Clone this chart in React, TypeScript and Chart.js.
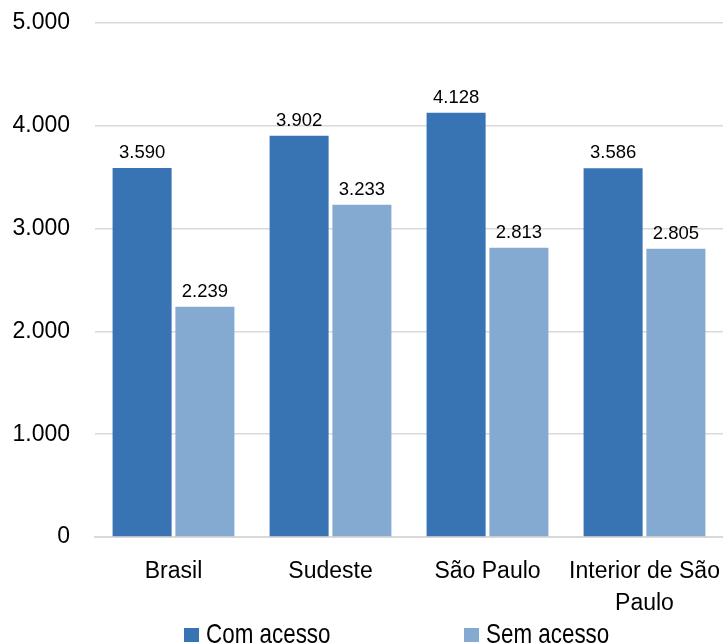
import React, { useEffect, useRef } from "react";
import { Chart, registerables } from "chart.js";

Chart.register(...registerables);

const categories: (string | string[])[] = ["Brasil", "Sudeste", "São Paulo", ["Interior de São", "Paulo"]];
const comAcesso = [3590, 3902, 4128, 3586];
const semAcesso = [2239, 3233, 2813, 2805];
const seriesNames = ["Com acesso", "Sem acesso"];
const yTicks = [0, 1000, 2000, 3000, 4000, 5000];

const FONT = "'Liberation Sans', Arial, sans-serif";
const DARK = "#3874B4";
const LIGHT = "#84AAD2";

const fmt = (v: number) => v.toLocaleString("pt-BR");

const dataLabelPlugin = {
  id: "dataLabels",
  afterDatasetsDraw(chart: any) {
    const ctx = chart.ctx;
    ctx.save();
    ctx.font = `18.5px ${FONT}`;
    ctx.fillStyle = "#000";
    ctx.textAlign = "center";
    ctx.textBaseline = "alphabetic";
    chart.data.datasets.forEach((ds: any, i: number) => {
      const meta = chart.getDatasetMeta(i);
      meta.data.forEach((bar: any, j: number) => {
        ctx.fillText(fmt(ds.data[j]), bar.x, bar.y - 10);
      });
    });
    ctx.restore();
  },
};

const legendPlugin = {
  id: "customLegend",
  afterDraw(chart: any) {
    const ctx = chart.ctx;
    ctx.save();
    const boxes = [184, 464];
    chart.data.datasets.forEach((ds: any, i: number) => {
      const x = boxes[i];
      ctx.fillStyle = ds.backgroundColor;
      ctx.fillRect(x, 628, 15, 14);
      ctx.save();
      ctx.translate(x + 22, 643);
      ctx.scale(0.8, 1);
      ctx.font = `28px ${FONT}`;
      ctx.textAlign = "left";
      ctx.textBaseline = "alphabetic";
      ctx.fillStyle = "#000";
      ctx.fillText(ds.label, 0, 0);
      ctx.restore();
    });
    ctx.restore();
  },
};

export default function App() {
  const ref = useRef<HTMLCanvasElement>(null);
  useEffect(() => {
    document.body.style.margin = "0";
    const chart = new Chart(ref.current!, {
      type: "bar",
      data: {
        labels: categories,
        datasets: [
          { label: seriesNames[0], data: comAcesso, backgroundColor: DARK, borderWidth: 0 },
          { label: seriesNames[1], data: semAcesso, backgroundColor: LIGHT, borderWidth: 0 },
        ],
      },
      options: {
        animation: false,
        responsive: false,
        maintainAspectRatio: false,
        layout: { padding: { top: 23, bottom: 28, left: 0, right: 0 } },
        datasets: { bar: { categoryPercentage: 0.8, barPercentage: 0.94 } },
        plugins: { legend: { display: false }, tooltip: { enabled: false } },
        scales: {
          x: {
            grid: { display: false, drawTicks: false },
            border: { display: true, color: "#d9d9d9", width: 2 },
            ticks: { color: "#000", font: { family: FONT, size: 23, lineHeight: 1.37 }, padding: 19, maxRotation: 0, autoSkip: false },
            afterFit: (s: any) => {
              s.height = 85;
              s.paddingLeft = 0;
              s.paddingRight = 0;
            },
          },
          y: {
            min: 0,
            max: 5000,
            afterBuildTicks: (s: any) => { s.ticks = yTicks.map((v) => ({ value: v })); },
            grid: { color: "#d9d9d9", drawTicks: false, lineWidth: 1.5 },
            border: { display: false },
            ticks: { color: "#000", font: { family: FONT, size: 23 }, padding: 25, callback: (v: any) => fmt(Number(v)) },
            afterFit: (s: any) => {
              s.width = 95;
              s.paddingTop = 0;
              s.paddingBottom = 0;
            },
          },
        },
      },
      plugins: [dataLabelPlugin, legendPlugin],
    });
    return () => chart.destroy();
  }, []);
  return (
    <div style={{ position: "absolute", left: 0, top: 0, width: 723, height: 650 }}>
      <canvas ref={ref} width={723} height={650} style={{ width: 723, height: 650 }} />
    </div>
  );
}
